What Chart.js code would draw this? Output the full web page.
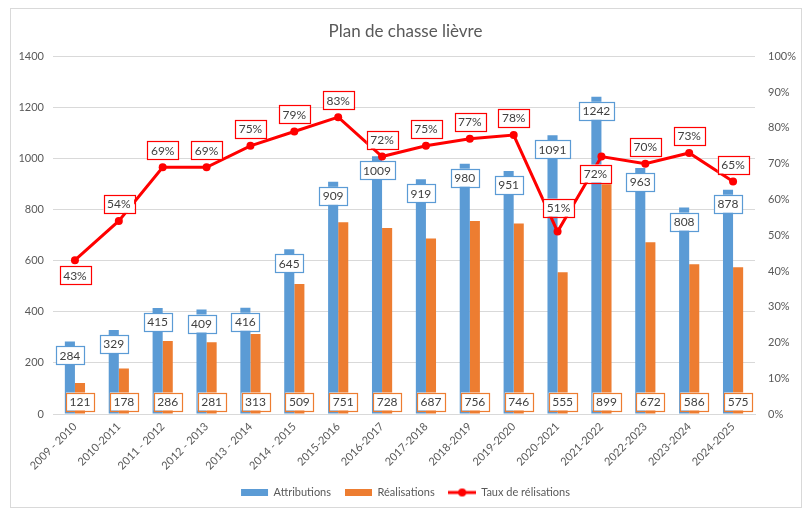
<!DOCTYPE html>
<html>
<head>
<meta charset="utf-8">
<title>Plan de chasse lièvre</title>
<script src="https://cdn.jsdelivr.net/npm/chart.js@4.4.1/dist/chart.umd.min.js"></script>
<style>
  html, body { margin: 0; padding: 0; background: #fff; }
  #wrap { position: relative; width: 808px; height: 510px; }
  #frame { position: absolute; left: 10px; top: 8px; width: 790px; height: 498px; border: 1px solid #d9d9d9; pointer-events: none; }
</style>
</head>
<body>
<div id="wrap">
  <canvas id="myChart" width="808" height="510"></canvas>
  <div id="frame"></div>
</div>
<script>
// data
const seasons = ["2009 - 2010", "2010-2011", "2011 - 2012", "2012 - 2013", "2013 - 2014", "2014 - 2015",
  "2015-2016", "2016-2017", "2017-2018", "2018-2019", "2019-2020", "2020-2021", "2021-2022",
  "2022-2023", "2023-2024", "2024-2025"];
const attributions = [284, 329, 415, 409, 416, 645, 909, 1009, 919, 980, 951, 1091, 1242, 963, 808, 878];
const realisations = [121, 178, 286, 281, 313, 509, 751, 728, 687, 756, 746, 555, 899, 672, 586, 575];
const taux = [43, 54, 69, 69, 75, 79, 83, 72, 75, 77, 78, 51, 72, 70, 73, 65]; // %
const leftTicks = [0, 200, 400, 600, 800, 1000, 1200, 1400];
const rightTicks = [0, 10, 20, 30, 40, 50, 60, 70, 80, 90, 100];

const BLUE = "#5B9BD5";
const ORANGE = "#ED7D31";
const RED = "#FF0000";
const GREY = "#595959";

Chart.defaults.font.family = "Lato, 'Open Sans', sans-serif";
Chart.defaults.color = GREY;

// where the % labels sit relative to their point (default: above)
const rateLabelShift = { 0: [0, 15], 11: [1, -24], 12: [-6, 17] };

function drawBox(ctx, text, cx, cy, color) {
  const w = ctx.measureText(text).width + 7;
  const h = 18;
  ctx.fillStyle = "#fff";
  ctx.fillRect(cx - w / 2, cy - h / 2, w, h);
  ctx.strokeStyle = color;
  ctx.lineWidth = 1.2;
  ctx.strokeRect(Math.round(cx - w / 2) + 0.5, Math.round(cy - h / 2) + 0.5, Math.round(w), h);
  ctx.fillStyle = "#404040";
  ctx.fillText(text, cx, cy + 0.5);
}

const boxLabels = {
  id: "boxLabels",
  afterDatasetsDraw(chart) {
    const ctx = chart.ctx;
    ctx.save();
    ctx.font = "12px Lato, 'Open Sans', sans-serif";
    ctx.textAlign = "center";
    ctx.textBaseline = "middle";
    chart.getDatasetMeta(0).data.forEach((bar, i) => {
      drawBox(ctx, String(attributions[i]), bar.x, bar.y + 14, BLUE);
    });
    chart.getDatasetMeta(1).data.forEach((bar, i) => {
      drawBox(ctx, String(realisations[i]), bar.x, bar.base - 12, ORANGE);
    });
    chart.getDatasetMeta(2).data.forEach((pt, i) => {
      const s = rateLabelShift[i] || [0, -17];
      drawBox(ctx, taux[i] + "%", pt.x + s[0], pt.y + s[1], RED);
    });
    ctx.restore();
  }
};

// little line-with-dot icon for the legend
const lineIcon = document.createElement("canvas");
lineIcon.width = 28;
lineIcon.height = 10;
(function () {
  const c = lineIcon.getContext("2d");
  c.strokeStyle = RED;
  c.lineWidth = 3;
  c.beginPath();
  c.moveTo(0, 5);
  c.lineTo(28, 5);
  c.stroke();
  c.fillStyle = RED;
  c.beginPath();
  c.arc(14, 5, 4, 0, Math.PI * 2);
  c.fill();
})();

const ctx = document.getElementById("myChart").getContext("2d");
new Chart(ctx, {
  type: "bar",
  data: {
    labels: seasons,
    datasets: [
      {
        label: "Attributions",
        data: attributions,
        backgroundColor: BLUE,
        yAxisID: "y",
        order: 1,
        categoryPercentage: 0.46,
        barPercentage: 1.0
      },
      {
        label: "Réalisations",
        data: realisations,
        backgroundColor: ORANGE,
        yAxisID: "y",
        order: 1,
        categoryPercentage: 0.46,
        barPercentage: 1.0
      },
      {
        type: "line",
        label: "Taux de rélisations",
        data: taux,
        borderColor: RED,
        backgroundColor: RED,
        borderWidth: 3,
        pointRadius: 4,
        pointBackgroundColor: RED,
        pointBorderWidth: 0,
        tension: 0,
        yAxisID: "y1",
        order: 0
      }
    ]
  },
  options: {
    responsive: false,
    animation: false,
    layout: { padding: { left: 10, right: 7, top: 8, bottom: 2 } },
    plugins: {
      title: {
        display: true,
        text: "Plan de chasse lièvre",
        color: GREY,
        font: { size: 17, weight: "normal" },
        padding: { top: 13, bottom: 15 }
      },
      legend: {
        position: "bottom",
        labels: {
          color: GREY,
          font: { size: 11 },
          usePointStyle: true,
          pointStyleWidth: 27,
          boxHeight: 7,
          padding: 14,
          generateLabels(chart) {
            const items = Chart.defaults.plugins.legend.labels.generateLabels(chart);
            items.forEach(it => {
              it.pointStyle = it.datasetIndex === 2 ? lineIcon : "rect";
              it.lineWidth = 0;
              it.strokeStyle = "rgba(0,0,0,0)";
            });
            items.sort((a, b) => a.datasetIndex - b.datasetIndex);
            return items;
          }
        }
      },
      tooltip: { enabled: false }
    },
    scales: {
      x: {
        offset: true,
        grid: { display: false, drawTicks: false },
        border: { color: "#d9d9d9" },
        ticks: { minRotation: 45, maxRotation: 45, autoSkip: false, padding: 6, font: { size: 11 }, color: GREY },
        afterFit(s) { s.height = 59; }
      },
      y: {
        position: "left",
        min: 0,
        max: 1400,
        afterBuildTicks(s) { s.ticks = leftTicks.map(v => ({ value: v })); },
        ticks: { padding: 9, font: { size: 11 }, color: GREY, callback: v => String(v) },
        grid: { color: "#d9d9d9", drawTicks: false },
        border: { display: false },
        afterFit(s) { s.width = 43; }
      },
      y1: {
        position: "right",
        min: 0,
        max: 100,
        afterBuildTicks(s) { s.ticks = rightTicks.map(v => ({ value: v })); },
        ticks: { padding: 13, font: { size: 11 }, color: GREY, callback: v => v + "%" },
        grid: { display: false, drawTicks: false },
        border: { display: false },
        afterFit(s) { s.width = 46; }
      }
    }
  },
  plugins: [boxLabels]
});
</script>
</body>
</html>
